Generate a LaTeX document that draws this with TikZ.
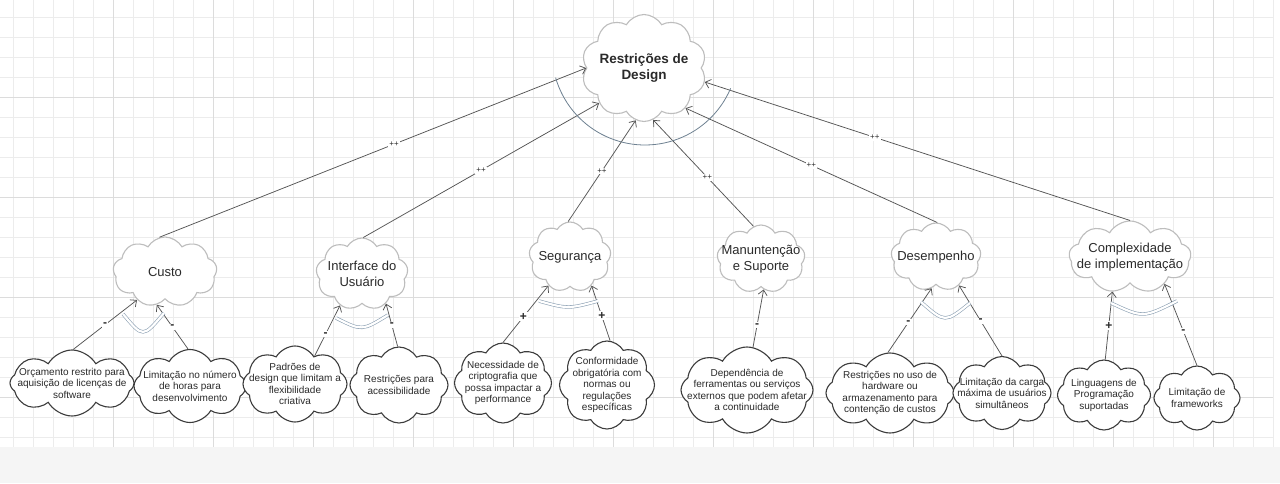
\documentclass[tikz,border=0pt]{standalone}
\usepackage{fontspec}
\setmainfont{Liberation Sans}
\usetikzlibrary{shapes.symbols,arrows.meta}
\definecolor{gridminor}{HTML}{ECECEC}
\definecolor{gridmajor}{HTML}{DCDCDC}
\definecolor{bottomgray}{HTML}{F5F5F5}
\definecolor{cloudgray}{HTML}{BDBDBD}
\definecolor{leafgray}{HTML}{3C3C3C}
\definecolor{txt}{HTML}{2A2A2A}
\definecolor{linegray}{HTML}{555555}
\definecolor{arcblue}{HTML}{8CA0B3}
\definecolor{rootarc}{HTML}{6E8191}
\begin{document}
\begin{tikzpicture}[x=1pt,y=-1pt,
  base/.style={cloud, cloud puffs=9, cloud puff arc=120, cloud ignores aspect, fill=white, inner sep=0pt},
  topcloud/.style={base, draw=cloudgray, line width=1.1pt},
  leaf/.style={base, cloud puffs=8, draw=leafgray, line width=1.1pt},
  toptext/.style={align=center, text=txt, inner sep=0pt, font=\fontsize{13}{15.5}\selectfont},
  roottext/.style={align=center, text=txt, inner sep=0pt, font=\fontsize{13.5}{16}\selectfont\bfseries},
  ltext/.style={align=center, text=txt, inner sep=0pt, font=\fontsize{10}{11.5}\selectfont},
  link/.style={draw=linegray, line width=0.75pt, -{Straight Barb[length=5pt,width=9pt]}},
  lab/.style={fill=white, inner sep=1pt, text=txt, font=\fontsize{12}{12}\selectfont\bfseries},
  pp/.style={fill=white, inner sep=1pt, text=txt, font=\fontsize{8}{8}\selectfont},
  andarc/.style={draw=arcblue, line width=0.6pt, double=white, double distance=2.2pt},
]
\useasboundingbox (0,0) rectangle (1280,483);
% background grid
\fill[white] (0,0) rectangle (1280,483);
\foreach \x in {13,33,...,1273} \draw[gridminor, line width=0.6pt] (\x,0) -- (\x,447);
\foreach \y in {17,37,...,437} \draw[gridminor, line width=0.6pt] (0,\y) -- (1273,\y);
\foreach \x in {113,213,...,1213} \draw[gridmajor, line width=0.6pt] (\x,0) -- (\x,447);
\foreach \y in {97,197,297,397} \draw[gridmajor, line width=0.6pt] (0,\y) -- (1273,\y);
\fill[bottomgray] (0,447) rectangle (1280,483);

% root
\node[topcloud, cloud puffs=10, minimum width=125pt, minimum height=107pt] (root) at (644,68) {};
\node[roottext] (roott) at (root) {Restrições de\\Design};

% sub goals
\node[topcloud, minimum width=104pt, minimum height=70pt] (custo) at (165,272) {};
\node[toptext] (custot) at (custo) {Custo};
\node[topcloud, minimum width=92pt, minimum height=72pt] (iface) at (362,274) {};
\node[toptext] (ifacet) at (iface) {Interface do\\Usuário};
\node[topcloud, minimum width=82pt, minimum height=70pt] (seg) at (570,257) {};
\node[toptext] (segt) at (seg) {Segurança};
\node[topcloud, minimum width=88pt, minimum height=68pt] (man) at (761,259) {};
\node[toptext] (mant) at (man) {Manuntenção\\e Suporte};
\node[topcloud, minimum width=90pt, minimum height=68pt] (des) at (936,257) {};
\node[toptext] (dest) at (des) {Desempenho};
\node[topcloud, minimum width=122pt, minimum height=72pt] (com) at (1130,257) {};
\node[toptext] (comt) at (com) {Complexidade\\de implementação};

% leaves
\node[leaf, minimum width=124pt, minimum height=66pt] (l1) at (72,383) {};
\node[ltext] (l1t) at (l1) {Orçamento restrito para\\aquisição de licenças de\\software};
\node[leaf, minimum width=112pt, minimum height=73pt] (l2) at (190,386) {};
\node[ltext] (l2t) at (l2) {Limitação no número\\de horas para\\desenvolvimento};
\node[leaf, minimum width=104pt, minimum height=76pt] (l3) at (295,384) {};
\node[ltext] (l3t) at (l3) {Padrões de\\design que limitam a\\flexibilidade\\criativa};
\node[leaf, minimum width=98pt, minimum height=76pt] (l4) at (399,385) {};
\node[ltext] (l4t) at (l4) {Restrições para\\acessibilidade};
\node[leaf, minimum width=97pt, minimum height=80pt] (l5) at (503,383) {};
\node[ltext] (l5t) at (l5) {Necessidade de\\criptografia que\\possa impactar a\\performance};
\node[leaf, minimum width=95pt, minimum height=88pt] (l6) at (607,385) {};
\node[ltext] (l6t) at (l6) {Conformidade\\obrigatória com\\normas ou\\regulações\\específicas};
\node[leaf, minimum width=132pt, minimum height=86pt] (l7) at (747,390) {};
\node[ltext] (l7t) at (l7) {Dependência de\\ferramentas ou serviços\\externos que podem afetar\\a continuidade};
\node[leaf, minimum width=128pt, minimum height=80pt] (l8) at (890,393) {};
\node[ltext] (l8t) at (l8) {Restrições no uso de\\hardware ou\\armazenamento para\\contenção de custos};
\node[leaf, minimum width=98pt, minimum height=73pt] (l9) at (1002,393) {};
\node[ltext] (l9t) at (l9) {Limitação da carga\\máxima de usuários\\simultâneos};
\node[leaf, minimum width=93pt, minimum height=70pt] (l10) at (1104,395) {};
\node[ltext] (l10t) at (l10) {Linguagens de\\Programação\\suportadas};
\node[leaf, minimum width=86pt, minimum height=64pt] (l11) at (1197,398) {};
\node[ltext] (l11t) at (l11) {Limitação de\\frameworks};

% root decomposition links
\draw[link] (custo.99) -- node[pp, pos=0.55] {++} (root.180);
\draw[link] (iface.88) -- node[pp] {++} (root.218);
\draw[link] (seg.93) -- node[pp] {++} (root.261);
\draw[link] (man.103) -- node[pp, pos=0.46] {++} (root.280);
\draw[link] (des.88) -- node[pp] {++} (root.316);
\draw[link] (com.90) -- node[pp, pos=0.6] {++} (root.347);
\draw[draw=rootarc, line width=0.8pt] plot[domain=196:337, samples=50] ({645+93*cos(\x)}, {52-93*sin(\x)});

% leaf contribution links
\draw[link] (l1.88) -- node[lab] {-} (custo.225);
\draw[link] (l2.93) -- node[lab] {-} (custo.256);
\draw[link] (l3.55) -- node[lab, pos=0.43] {-} (iface.235);
\draw[link] (l4.92) -- node[lab] {-} (iface.309);
\draw[link] (l5.90) -- node[lab, pos=0.45] {+} (seg.233);
\draw[link] (l6.86) -- node[lab, pos=0.45] {+} (seg.307);
\draw[link] (l7.82) -- node[lab, pos=0.38] {-} (man.275);
\draw[link] (l8.93) -- node[lab, pos=0.47] {-} (des.262);
\draw[link] (l9.90) -- node[lab] {-} (des.309);
\draw[link] (l10.88) -- node[lab] {+} (com.243);
\draw[link] (l11.90) -- node[lab, pos=0.42] {-} (com.322);

% AND arcs
\draw[andarc] (123,314) .. controls (143,338) .. (164,313);
\draw[andarc] (336,318) .. controls (362,331) .. (388,315);
\draw[andarc] (539,301) .. controls (568,309) .. (598,301);
\draw[andarc] (921,302) .. controls (945,323) .. (970,303);
\draw[andarc] (1111,303) .. controls (1143,318) .. (1177,301);
\end{tikzpicture}
\end{document}
